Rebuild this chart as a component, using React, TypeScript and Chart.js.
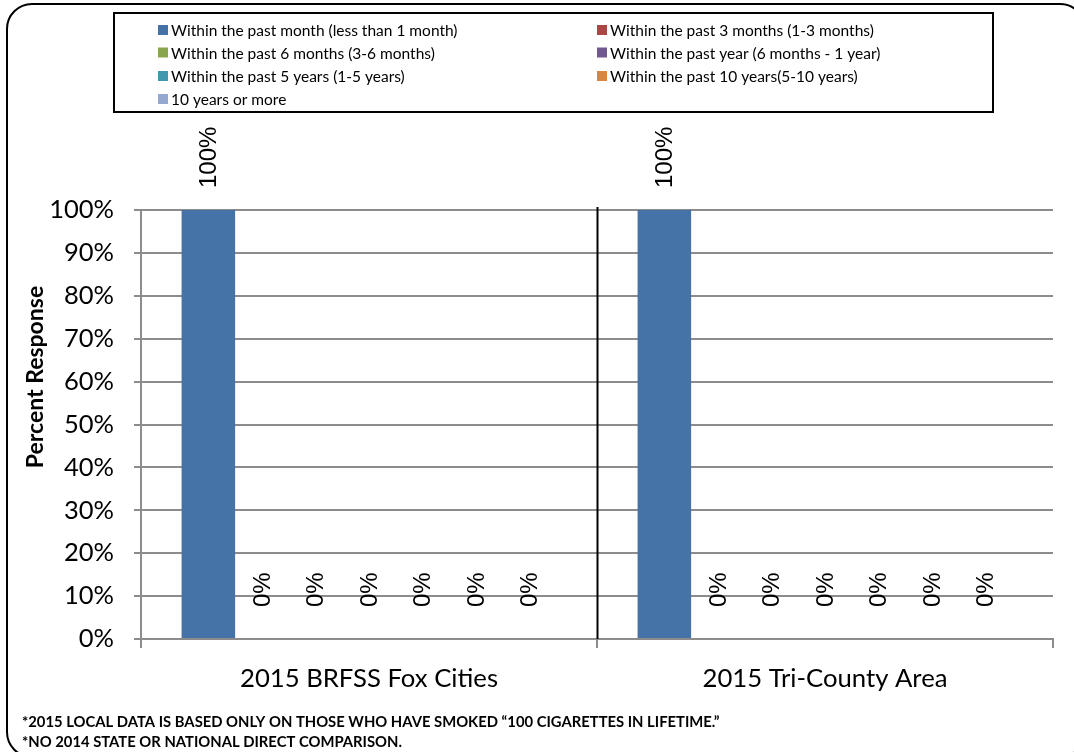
import React, { useEffect, useRef } from "react";
import { Chart, registerables } from "chart.js";

Chart.register(...registerables);

const categories = ["2015 BRFSS Fox Cities", "2015 Tri-County Area"];
const seriesLabels = [
  "Within the past month (less than 1 month)",
  "Within the past 3 months (1-3 months)",
  "Within the past 6 months (3-6 months)",
  "Within the past year (6 months - 1 year)",
  "Within the past 5 years (1-5 years)",
  "Within the past 10 years(5-10 years)",
  "10 years or more",
];
const pastMonth = [100, 100];
const past3Months = [0, 0];
const past6Months = [0, 0];
const pastYear = [0, 0];
const past5Years = [0, 0];
const past10Years = [0, 0];
const tenPlusYears = [0, 0];
const seriesValues = [pastMonth, past3Months, past6Months, pastYear, past5Years, past10Years, tenPlusYears];
const seriesColors = ["#4572A7", "#AA4643", "#89A54E", "#71588F", "#4198AF", "#DB843D", "#93A9CF"];
const yTickValues = [0, 10, 20, 30, 40, 50, 60, 70, 80, 90, 100];
const yTitle = "Percent Response";
const footnotes = [
  "*2015 LOCAL DATA IS BASED ONLY ON THOSE WHO HAVE SMOKED \u201C100 CIGARETTES IN LIFETIME.\u201D",
  "*NO 2014 STATE OR NATIONAL DIRECT COMPARISON.",
];

const CAL = "Lato, 'Open Sans', sans-serif";
const GRID = "#8C8C8C";

const decorPlugin = {
  id: "decor",
  beforeDraw(chart: any) {
    const ctx = chart.ctx;
    ctx.save();
    ctx.fillStyle = "#ffffff";
    ctx.fillRect(0, 0, chart.width, chart.height);
    ctx.restore();
  },
  afterDatasetsDraw(chart: any) {
    const ctx = chart.ctx;
    const xs = chart.scales.x;
    const area = chart.chartArea;
    // divider between categories
    ctx.save();
    const px = Math.round((xs.getPixelForTick(0) + xs.getPixelForTick(1)) / 2) + 0.5;
    ctx.strokeStyle = "#000";
    ctx.lineWidth = 2;
    ctx.beginPath();
    ctx.moveTo(px, area.top - 3);
    ctx.lineTo(px, area.bottom);
    ctx.stroke();
    ctx.restore();

    // data labels
    ctx.save();
    ctx.fillStyle = "#000";
    ctx.font = "24px 'Liberation Sans', Arial, sans-serif";
    ctx.textAlign = "left";
    ctx.textBaseline = "middle";
    chart.data.datasets.forEach((ds: any, di: number) => {
      const meta = chart.getDatasetMeta(di);
      meta.data.forEach((bar: any, i: number) => {
        const v = ds.data[i];
        const off = v > 0 ? 22 : 32;
        ctx.save();
        ctx.translate(bar.x + 1, bar.y - off);
        ctx.rotate(-Math.PI / 2);
        ctx.fillText(v + "%", 0, 0);
        ctx.restore();
      });
    });
    ctx.restore();
  },
  afterDraw(chart: any) {
    const ctx = chart.ctx;
    ctx.save();
    // outer rounded frame
    ctx.strokeStyle = "#000";
    ctx.lineWidth = 2;
    ctx.beginPath();
    ctx.roundRect(7, 4, 1078, 753, 25);
    ctx.stroke();

    // legend box
    ctx.lineWidth = 2;
    ctx.strokeRect(114, 13, 879, 99);
    ctx.font = "15.5px " + CAL;
    ctx.textBaseline = "middle";
    ctx.textAlign = "left";
    const colX = [158, 597];
    const rowY = [30, 52.5, 76, 99];
    chart.data.datasets.forEach((ds: any, i: number) => {
      const c = i % 2;
      const r = Math.floor(i / 2);
      const x = colX[c];
      const y = rowY[r];
      ctx.fillStyle = ds.backgroundColor;
      ctx.fillRect(x, y - 5, 10, 10);
      ctx.fillStyle = "#000";
      ctx.fillText(ds.label, x + 13, y + 1);
    });

    // y axis title
    ctx.save();
    ctx.font = "bold 23px " + CAL;
    ctx.textAlign = "center";
    ctx.textBaseline = "middle";
    ctx.translate(36, 377);
    ctx.rotate(-Math.PI / 2);
    ctx.fillText(yTitle, 0, 0);
    ctx.restore();

    // footnotes
    ctx.font = "bold 14.8px " + CAL;
    ctx.textAlign = "left";
    ctx.textBaseline = "middle";
    ctx.fillStyle = "#000";
    ctx.fillText(footnotes[0], 22, 722);
    ctx.fillText(footnotes[1], 22, 742);
    ctx.restore();
  },
};

export default function App() {
  const ref = useRef<HTMLCanvasElement | null>(null);
  useEffect(() => {
    if (!ref.current) return;
    const chart = new Chart(ref.current, {
      type: "bar",
      data: {
        labels: categories,
        datasets: seriesLabels.map((label, i) => ({
          label,
          data: seriesValues[i],
          backgroundColor: seriesColors[i],
          borderWidth: 0,
          barPercentage: 1,
          categoryPercentage: 0.822,
        })),
      },
      options: {
        animation: false,
        responsive: false,
        devicePixelRatio: 1,
        layout: { padding: { top: 210, right: 21, bottom: 0, left: 0 } },
        plugins: {
          legend: { display: false },
          tooltip: { enabled: false },
          title: { display: false },
        },
        scales: {
          x: {
            afterFit: (s: any) => {
              s.height = 113;
            },
            grid: {
              display: true,
              drawOnChartArea: false,
              drawTicks: true,
              tickLength: 9,
              color: GRID,
              lineWidth: 2,
              offset: true,
            },
            border: { display: true, color: GRID, width: 2 },
            ticks: {
              color: "#000",
              font: { family: CAL, size: 25.7 },
              padding: 15,
              maxRotation: 0,
            },
          },
          y: {
            min: 0,
            max: 100,
            afterFit: (s: any) => {
              s.width = 141;
            },
            afterBuildTicks: (s: any) => {
              s.ticks = yTickValues.map((v) => ({ value: v }));
            },
            grid: {
              color: GRID,
              lineWidth: 2,
              drawTicks: true,
              tickLength: 7,
            },
            border: { display: true, color: GRID, width: 2 },
            ticks: {
              color: "#000",
              font: { family: CAL, size: 25.5 },
              padding: 20,
              callback: (v: any) => v + "%",
            },
          },
        },
      },
      plugins: [decorPlugin],
    });
    return () => chart.destroy();
  }, []);
  return (
    <div style={{ position: "absolute", left: 0, top: 0, width: 1074, height: 752 }}>
      <canvas ref={ref} width={1074} height={752} style={{ display: "block" }} />
    </div>
  );
}
